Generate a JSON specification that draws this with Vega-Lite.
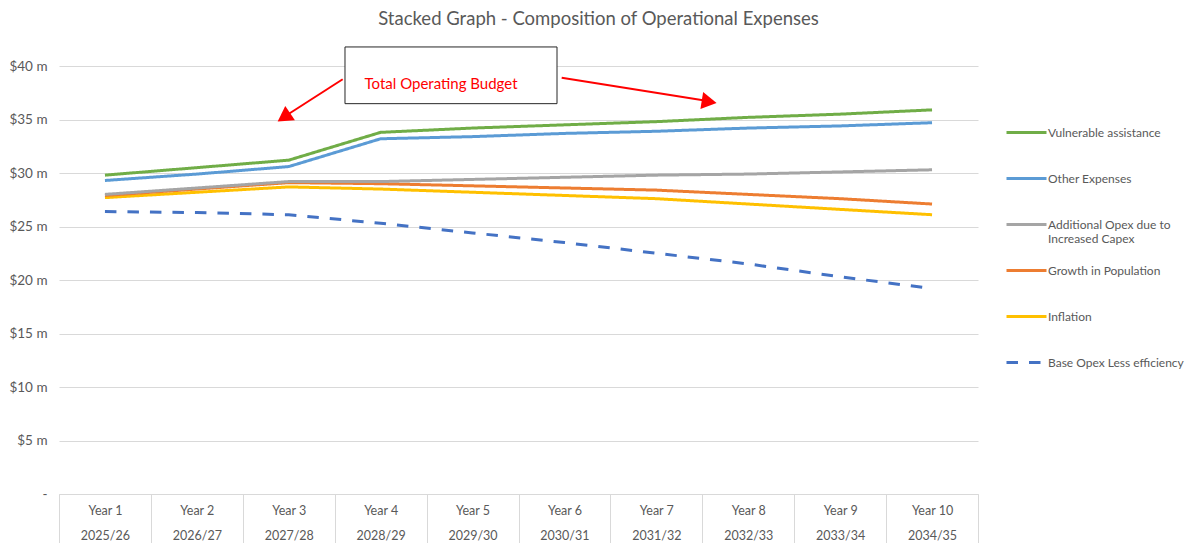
{
  "$schema": "https://vega.github.io/schema/vega-lite/v6.json",
  "width": 919,
  "height": 428,
  "autosize": {"type": "none"},
  "padding": {"left": 59, "top": 66, "right": 218, "bottom": 49},
  "background": "white",
  "config": {"font": "Lato", "view": {"stroke": null}},
  "title": {"text": "Stacked Graph - Composition of Operational Expenses", "anchor": "middle", "dx": 80, "fontSize": 18.5, "fontWeight": "normal", "color": "#595959", "font": "Lato", "offset": 18},
  "datasets": {
    "series": [
      {"series": "Base Opex Less efficiency", "year": 1, "value": 26.4},
      {"series": "Base Opex Less efficiency", "year": 2, "value": 26.3},
      {"series": "Base Opex Less efficiency", "year": 3, "value": 26.1},
      {"series": "Base Opex Less efficiency", "year": 4, "value": 25.3},
      {"series": "Base Opex Less efficiency", "year": 5, "value": 24.4},
      {"series": "Base Opex Less efficiency", "year": 6, "value": 23.5},
      {"series": "Base Opex Less efficiency", "year": 7, "value": 22.5},
      {"series": "Base Opex Less efficiency", "year": 8, "value": 21.5},
      {"series": "Base Opex Less efficiency", "year": 9, "value": 20.3},
      {"series": "Base Opex Less efficiency", "year": 10, "value": 19.2},
      {"series": "Inflation", "year": 1, "value": 27.7},
      {"series": "Inflation", "year": 2, "value": 28.2},
      {"series": "Inflation", "year": 3, "value": 28.7},
      {"series": "Inflation", "year": 4, "value": 28.5},
      {"series": "Inflation", "year": 5, "value": 28.2},
      {"series": "Inflation", "year": 6, "value": 27.9},
      {"series": "Inflation", "year": 7, "value": 27.6},
      {"series": "Inflation", "year": 8, "value": 27.1},
      {"series": "Inflation", "year": 9, "value": 26.6},
      {"series": "Inflation", "year": 10, "value": 26.1},
      {"series": "Growth in Population", "year": 1, "value": 27.9},
      {"series": "Growth in Population", "year": 2, "value": 28.5},
      {"series": "Growth in Population", "year": 3, "value": 29.1},
      {"series": "Growth in Population", "year": 4, "value": 29.0},
      {"series": "Growth in Population", "year": 5, "value": 28.8},
      {"series": "Growth in Population", "year": 6, "value": 28.6},
      {"series": "Growth in Population", "year": 7, "value": 28.4},
      {"series": "Growth in Population", "year": 8, "value": 28.0},
      {"series": "Growth in Population", "year": 9, "value": 27.6},
      {"series": "Growth in Population", "year": 10, "value": 27.1},
      {"series": "Additional Opex due to Increased Capex", "year": 1, "value": 28.0},
      {"series": "Additional Opex due to Increased Capex", "year": 2, "value": 28.6},
      {"series": "Additional Opex due to Increased Capex", "year": 3, "value": 29.2},
      {"series": "Additional Opex due to Increased Capex", "year": 4, "value": 29.2},
      {"series": "Additional Opex due to Increased Capex", "year": 5, "value": 29.4},
      {"series": "Additional Opex due to Increased Capex", "year": 6, "value": 29.6},
      {"series": "Additional Opex due to Increased Capex", "year": 7, "value": 29.8},
      {"series": "Additional Opex due to Increased Capex", "year": 8, "value": 29.9},
      {"series": "Additional Opex due to Increased Capex", "year": 9, "value": 30.1},
      {"series": "Additional Opex due to Increased Capex", "year": 10, "value": 30.3},
      {"series": "Other Expenses", "year": 1, "value": 29.3},
      {"series": "Other Expenses", "year": 2, "value": 29.9},
      {"series": "Other Expenses", "year": 3, "value": 30.6},
      {"series": "Other Expenses", "year": 4, "value": 33.2},
      {"series": "Other Expenses", "year": 5, "value": 33.4},
      {"series": "Other Expenses", "year": 6, "value": 33.7},
      {"series": "Other Expenses", "year": 7, "value": 33.9},
      {"series": "Other Expenses", "year": 8, "value": 34.2},
      {"series": "Other Expenses", "year": 9, "value": 34.4},
      {"series": "Other Expenses", "year": 10, "value": 34.7},
      {"series": "Vulnerable assistance", "year": 1, "value": 29.8},
      {"series": "Vulnerable assistance", "year": 2, "value": 30.5},
      {"series": "Vulnerable assistance", "year": 3, "value": 31.2},
      {"series": "Vulnerable assistance", "year": 4, "value": 33.8},
      {"series": "Vulnerable assistance", "year": 5, "value": 34.2},
      {"series": "Vulnerable assistance", "year": 6, "value": 34.5},
      {"series": "Vulnerable assistance", "year": 7, "value": 34.8},
      {"series": "Vulnerable assistance", "year": 8, "value": 35.2},
      {"series": "Vulnerable assistance", "year": 9, "value": 35.5},
      {"series": "Vulnerable assistance", "year": 10, "value": 35.9}
    ],
    "anchor": [{"note": "Total Operating Budget"}]
  },
  "layer": [
    {
      "data": {"name": "series"},
      "mark": {"type": "line", "strokeWidth": 3},
      "encoding": {
        "x": {
          "field": "year", "type": "quantitative",
          "scale": {"domain": [0.5, 10.5], "nice": false, "zero": false},
          "axis": {
            "title": null,
            "values": [0.5, 1.5, 2.5, 3.5, 4.5, 5.5, 6.5, 7.5, 8.5, 9.5, 10.5],
            "grid": false,
            "domain": true, "domainColor": "#D9D9D9", "domainWidth": 1,
            "ticks": true, "tickColor": "#D9D9D9", "tickSize": 49, "tickWidth": 1,
            "labelExpr": "datum.value < 10 ? ['Year ' + (datum.value + 0.5), ['2025/26','2026/27','2027/28','2028/29','2029/30','2030/31','2031/32','2032/33','2033/34','2034/35'][datum.value - 0.5]] : ''",
            "labelOffset": 45.95,
            "labelBaseline": "top",
            "labelPadding": -39,
            "labelLineHeight": 25,
            "labelFontSize": 12.5,
            "labelColor": "#595959",
            "labelFlush": false,
            "labelOverlap": false,
            "labelBound": false
          }
        },
        "y": {
          "field": "value", "type": "quantitative",
          "scale": {"domain": [0, 40], "nice": false},
          "axis": {
            "title": null,
            "values": [0, 5, 10, 15, 20, 25, 30, 35, 40],
            "grid": true, "gridColor": "#D9D9D9", "gridWidth": 1,
            "domain": false, "ticks": false,
            "labelExpr": "datum.value == 0 ? '-' : '$' + datum.value + '  m'",
            "labelPadding": 12,
            "labelFontSize": 13.5,
            "labelColor": "#595959"
          }
        },
        "color": {
          "field": "series", "type": "nominal",
          "scale": {
            "domain": ["Vulnerable assistance", "Other Expenses", "Additional Opex due to Increased Capex", "Growth in Population", "Inflation", "Base Opex Less efficiency"],
            "range": ["#70AD47", "#5B9BD5", "#A5A5A5", "#ED7D31", "#FFC000", "#4472C4"]
          },
          "legend": {
            "title": null, "orient": "none", "legendX": 946, "legendY": 45,
            "padding": 0, "symbolType": "stroke", "symbolSize": 1600, "symbolStrokeWidth": 3,
            "labelOffset": 0, "labelFontSize": 12, "labelColor": "#595959", "labelLimit": 220,
            "labelLineHeight": 16, "rowPadding": 4, "gridAlign": "all",
            "labelExpr": "datum.label == 'Additional Opex due to Increased Capex' ? ['Additional Opex due to', 'Increased Capex'] : datum.label"
          }
        },
        "strokeDash": {
          "field": "series", "type": "nominal",
          "scale": {
            "domain": ["Vulnerable assistance", "Other Expenses", "Additional Opex due to Increased Capex", "Growth in Population", "Inflation", "Base Opex Less efficiency"],
            "range": [[1, 0], [1, 0], [1, 0], [1, 0], [1, 0], [11.5, 11]]
          },
          "legend": {
            "title": null, "orient": "none", "legendX": 946, "legendY": 45,
            "padding": 0, "symbolType": "stroke", "symbolSize": 1600, "symbolStrokeWidth": 3,
            "labelOffset": 0, "labelFontSize": 12, "labelColor": "#595959", "labelLimit": 220,
            "labelLineHeight": 16, "rowPadding": 4, "gridAlign": "all",
            "labelExpr": "datum.label == 'Additional Opex due to Increased Capex' ? ['Additional Opex due to', 'Increased Capex'] : datum.label"
          }
        }
      }
    },
    {
      "data": {"name": "anchor"},
      "mark": {"type": "rect", "fill": "white", "stroke": "#262626", "strokeWidth": 1},
      "encoding": {
        "x": {"datum": 3.612, "type": "quantitative"},
        "x2": {"datum": 5.919},
        "y": {"datum": 41.78, "type": "quantitative"},
        "y2": {"datum": 36.48}
      }
    },
    {
      "data": {"name": "anchor"},
      "mark": {"type": "text", "color": "#FF0000", "fontSize": 15, "align": "center", "baseline": "middle"},
      "encoding": {
        "text": {"field": "note"},
        "x": {"datum": 4.657, "type": "quantitative"},
        "y": {"datum": 38.32, "type": "quantitative"}
      }
    },
    {
      "data": {"name": "anchor"},
      "mark": {"type": "rule", "color": "#FF0000", "strokeWidth": 2},
      "encoding": {
        "x": {"datum": 3.587, "type": "quantitative"},
        "x2": {"datum": 2.981},
        "y": {"datum": 38.76, "type": "quantitative"},
        "y2": {"datum": 35.42}
      }
    },
    {
      "data": {"name": "anchor"},
      "mark": {"type": "point", "shape": "triangle-up", "filled": true, "color": "#FF0000", "opacity": 1, "size": 300, "angle": 236},
      "encoding": {
        "x": {"datum": 2.947, "type": "quantitative"},
        "y": {"datum": 35.21, "type": "quantitative"}
      }
    },
    {
      "data": {"name": "anchor"},
      "mark": {"type": "rule", "color": "#FF0000", "strokeWidth": 2},
      "encoding": {
        "x": {"datum": 5.970, "type": "quantitative"},
        "x2": {"datum": 7.508},
        "y": {"datum": 38.91, "type": "quantitative"},
        "y2": {"datum": 36.79}
      }
    },
    {
      "data": {"name": "anchor"},
      "mark": {"type": "point", "shape": "triangle-up", "filled": true, "color": "#FF0000", "opacity": 1, "size": 300, "angle": 99},
      "encoding": {
        "x": {"datum": 7.575, "type": "quantitative"},
        "y": {"datum": 36.66, "type": "quantitative"}
      }
    }
  ]
}
